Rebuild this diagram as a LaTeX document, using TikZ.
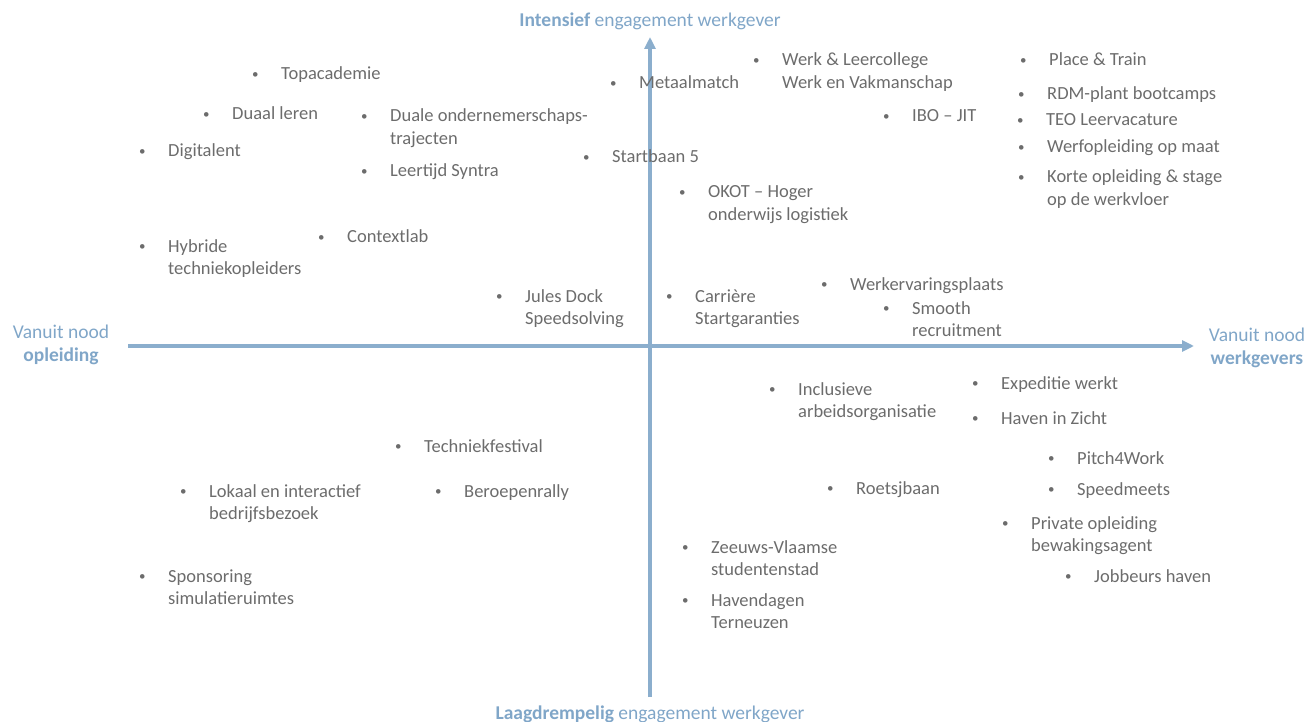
\documentclass[tikz,border=0pt]{standalone}
\usepackage{fontspec}
\setmainfont{Carlito}
\usetikzlibrary{arrows.meta}
\definecolor{axisblue}{RGB}{139,174,205}
\definecolor{labelblue}{RGB}{128,166,200}
\definecolor{txtgray}{RGB}{108,108,108}
% one bulleted entry; extra lines are written as \\& text
\newcommand{\bitem}[1]{\begin{tabular}[t]{@{}p{29pt}@{}l@{}}\raisebox{1.6pt}{\fontsize{13}{13}\selectfont •}&#1\end{tabular}}
\begin{document}
\begin{tikzpicture}[x=1pt,y=-1pt,
  entry/.style={anchor=base west,inner sep=0pt,text=txtgray,
    font=\fontsize{18.5}{22.5}\selectfont},
  axislabel/.style={inner sep=0pt,text=labelblue,align=center,
    font=\fontsize{19.5}{23}\selectfont},
  axis/.style={draw=axisblue,line width=3.5pt,-{Triangle[length=12pt,width=11pt]}}]
\useasboundingbox (0,0) rectangle (1309,722);

% axes
\coordinate (ybot) at (650,697);
\coordinate (ytop) at (650,37);
\coordinate (xleft) at (128,346);
\coordinate (xright) at (1194,346);
\draw[axis] (ybot) -- (ytop);
\draw[axis] (xleft) -- (xright);

% axis labels
\node[axislabel] (top) at (650,21) {\textbf{Intensief} engagement werkgever};
\node[axislabel] (bottom) at (650,714) {\textbf{Laagdrempelig} engagement werkgever};
\node[axislabel] (left) at (61,345) {Vanuit nood\\\textbf{opleiding}};
\node[axislabel] (right) at (1257,348) {Vanuit nood\\\textbf{werkgevers}};

% upper left quadrant
\node[entry] (topacademie) at (252,80) {\bitem{Topacademie}};
\node[entry] (duaal) at (203,120) {\bitem{Duaal leren}};
\node[entry] (digitalent) at (139,157) {\bitem{Digitalent}};
\node[entry] (duale) at (361,122) {\bitem{Duale ondernemerschaps-\\&trajecten}};
\node[entry] (leertijd) at (361,177) {\bitem{Leertijd Syntra}};
\node[entry] (startbaan) at (583,163) {\bitem{Startbaan 5}};
\node[entry] (metaal) at (610,89) {\bitem{Metaalmatch}};
\node[entry] (contextlab) at (318,243) {\bitem{Contextlab}};
\node[entry] (hybride) at (139,252) {\bitem{Hybride\\&techniekopleiders}};
\node[entry] (jules) at (496,302) {\bitem{Jules Dock\\&Speedsolving}};

% upper right quadrant
\node[entry] (werkleer) at (753,66) {\bitem{Werk \& Leercollege\\&Werk en Vakmanschap}};
\node[entry] (ibo) at (883,122) {\bitem{IBO – JIT}};
\node[entry] (place) at (1020,66) {\bitem{Place \& Train}};
\node[entry] (rdm) at (1018,100) {\bitem{RDM-plant bootcamps}};
\node[entry] (teo) at (1017,126) {\bitem{TEO Leervacature}};
\node[entry] (werf) at (1018,153) {\bitem{Werfopleiding op maat}};
\node[entry] (korte) at (1018,183) {\bitem{Korte opleiding \& stage\\&op de werkvloer}};
\node[entry] (okot) at (679,198) {\bitem{OKOT – Hoger\\&onderwijs logistiek}};
\node[entry] (carriere) at (666,302) {\bitem{Carrière\\&Startgaranties}};
\node[entry] (werkerv) at (821,290) {\bitem{Werkervaringsplaats}};
\node[entry] (smooth) at (883,314) {\bitem{Smooth\\&recruitment}};

% lower right quadrant
\node[entry] (inclusieve) at (769,395) {\bitem{Inclusieve\\&arbeidsorganisatie}};
\node[entry] (expeditie) at (972,389) {\bitem{Expeditie werkt}};
\node[entry] (haven) at (972,424) {\bitem{Haven in Zicht}};
\node[entry] (pitch) at (1048,464) {\bitem{Pitch4Work}};
\node[entry] (speed) at (1048,495) {\bitem{Speedmeets}};
\node[entry] (roetsj) at (827,494) {\bitem{Roetsjbaan}};
\node[entry] (private) at (1002,529) {\bitem{Private opleiding\\&bewakingsagent}};
\node[entry] (jobbeurs) at (1065,582) {\bitem{Jobbeurs haven}};
\node[entry] (zeeuws) at (682,553) {\bitem{Zeeuws-Vlaamse\\&studentenstad}};
\node[entry] (havendagen) at (682,606) {\bitem{Havendagen\\&Terneuzen}};

% lower left quadrant
\node[entry] (techniek) at (395,452) {\bitem{Techniekfestival}};
\node[entry] (beroepen) at (435,497) {\bitem{Beroepenrally}};
\node[entry] (lokaal) at (180,497) {\bitem{Lokaal en interactief\\&bedrijfsbezoek}};
\node[entry] (sponsoring) at (139,582) {\bitem{Sponsoring\\&simulatieruimtes}};
\end{tikzpicture}
\end{document}
